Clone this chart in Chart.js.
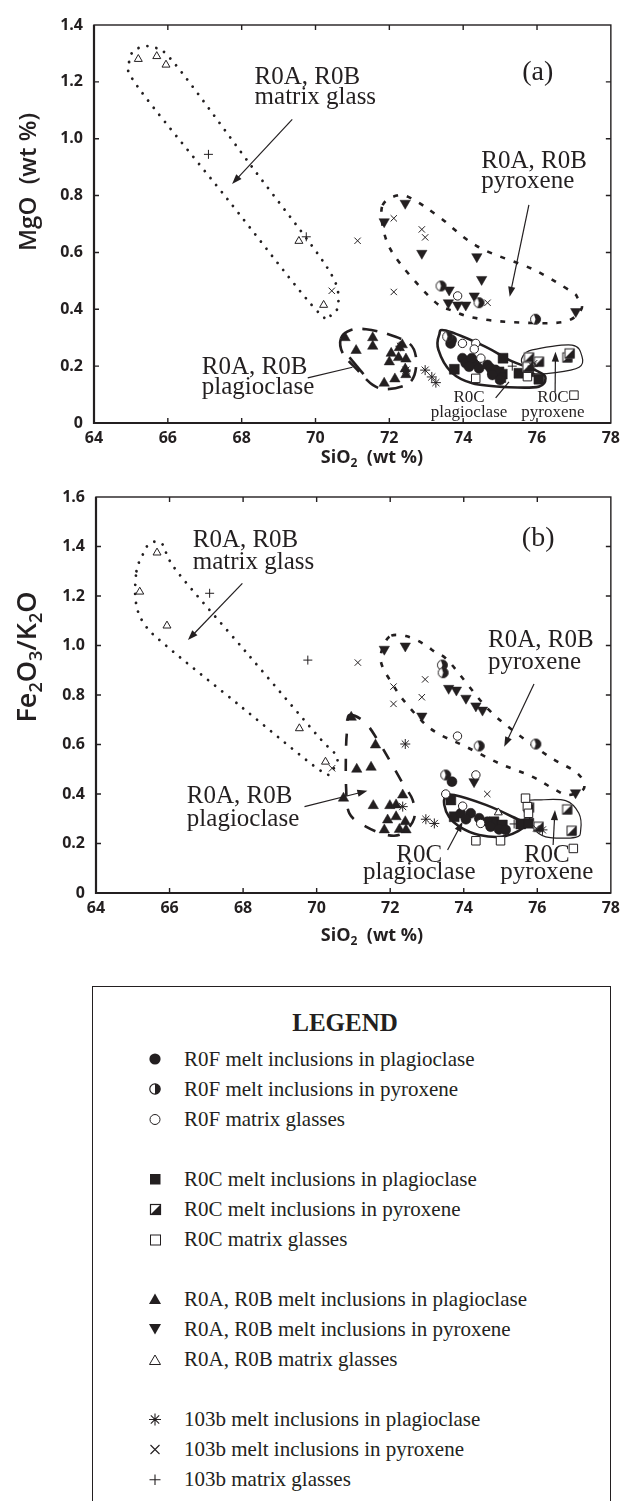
<!DOCTYPE html>
<html>
<head>
<meta charset="utf-8">
<script src="https://cdn.jsdelivr.net/npm/chart.js@4.4.0/dist/chart.umd.min.js"></script>
<style>
  html, body { margin: 0; padding: 0; background: #fff; }
  body { position: relative; width: 626px; height: 1501px; overflow: hidden; }
  canvas { position: absolute; left: 0; }
  #chartA { top: 0; }
  #chartB { top: 470px; }
  #legend {
    position: absolute; left: 92px; top: 986px; width: 517px; height: 560px;
    border: 1.5px solid #231f20; box-sizing: content-box;
    font-family: "Liberation Serif", "Times New Roman", serif; color: #231f20;
  }
  #legend .title {
    position: absolute; left: 0; width: 504px; top: 20px; text-align: center;
    font-weight: bold; font-size: 25px; line-height: 32px;
  }
  #legend .row { position: absolute; left: 0; height: 30px; line-height: 30px; font-size: 21px; white-space: nowrap; }
  #legend .row svg { position: absolute; left: 55px; top: 8px; }
  #legend .row span { position: absolute; left: 91px; top: 0; }
</style>
</head>
<body>
<canvas id="chartA" width="626" height="475"></canvas>
<canvas id="chartB" width="626" height="480"></canvas>
<div id="legend"></div>
<script>
// ---------- axis ticks ----------
const sio2Ticks = [64, 66, 68, 70, 72, 74, 76, 78];
const mgoTicks  = [0, 0.2, 0.4, 0.6, 0.8, 1.0, 1.2, 1.4];
const feTicks   = [0, 0.2, 0.4, 0.6, 0.8, 1.0, 1.2, 1.4, 1.6];

// ---------- (a) MgO vs SiO2, [SiO2, MgO] ----------
const mgoR0Fplag = [[73.69,0.292],[73.66,0.28],[73.98,0.228],[74.07,0.21],[74.23,0.228],[74.16,0.198],
                    [74.43,0.192],[74.66,0.204],[74.75,0.192],[74.88,0.186],[74.79,0.169],[75.0,0.151]];
const mgoR0Fpyx  = [[73.58,0.304],[73.40,0.482],[74.43,0.423],[75.96,0.365]];
const mgoR0Fglass = [[73.85,0.447],[73.98,0.28],[74.34,0.28],[74.3,0.26],[74.48,0.228]];
const mgoR0Cplag = [[73.76,0.189],[74.34,0.21],[75.08,0.228],[74.79,0.186],[74.97,0.18],[75.06,0.172],
                    [75.02,0.16],[75.51,0.175],[75.78,0.18],[76.05,0.154]];
const mgoR0Cpyx  = [[75.78,0.231],[76.05,0.216],[76.82,0.231],[76.88,0.245],[75.74,0.198]];
const mgoR0Cglass = [[74.34,0.157],[75.74,0.163],[77.0,0.098]];
const mgoR0ABplag = [[70.8,0.30],[71.1,0.255],[71.55,0.30],[71.55,0.27],[72.05,0.245],[72.0,0.215],[72.27,0.265],
                     [72.35,0.275],[72.25,0.23],[72.45,0.225],[72.43,0.19],[72.45,0.17],[71.86,0.14],[72.15,0.155]];
const mgoR0ABpyx = [[71.86,0.708],[72.43,0.773],[72.88,0.597],[73.62,0.468],[73.60,0.423],[73.85,0.415],
                    [74.07,0.415],[74.3,0.447],[74.37,0.585],[74.5,0.505],[77.05,0.392]];
const mgoR0ABglass = [[65.2,1.28],[65.7,1.29],[65.95,1.26],[69.55,0.64],[70.22,0.415]];
const mgo103bPlag = [[72.3,0.27],[72.45,0.186],[72.97,0.186],[73.15,0.162],[73.26,0.142],[75.88,0.2]];
const mgo103bPyx  = [[71.14,0.641],[72.12,0.72],[72.88,0.681],[72.97,0.653],[70.44,0.465],[72.12,0.461],
                     [74.66,0.423],[75.92,0.21]];
const mgo103bGlass = [[67.1,0.945],[69.75,0.655],[75.33,0.2]];

// ---------- (b) Fe2O3/K2O vs SiO2, [SiO2, Fe2O3/K2O] ----------
const feR0Fplag = [[73.68,0.45],[73.92,0.322],[74.19,0.322],[74.06,0.298],[74.42,0.302],[74.64,0.288],
                   [74.73,0.268],[74.96,0.257],[75.14,0.255]];
const feR0Fpyx  = [[73.42,0.921],[73.44,0.89],[74.42,0.594],[75.96,0.602],[73.51,0.477]];
const feR0Fglass = [[73.83,0.634],[74.33,0.477],[73.51,0.40],[73.97,0.351],[74.46,0.281]];
const feR0Cplag = [[73.65,0.376],[73.74,0.308],[74.82,0.288],[75.05,0.275],[75.55,0.279],[75.77,0.282]];
const feR0Cpyx  = [[75.77,0.346],[76.03,0.268],[76.81,0.338],[76.93,0.252]];
const feR0Cglass = [[75.68,0.383],[74.33,0.211],[75.0,0.211],[75.73,0.349],[75.76,0.322],[76.98,0.18]];
const feR0ABplag = [[70.94,0.71],[71.6,0.598],[71.09,0.5],[71.48,0.508],[72.34,0.396],[70.73,0.383],[71.54,0.353],
                    [71.99,0.353],[72.16,0.356],[71.93,0.295],[72.16,0.308],[71.84,0.255],[72.41,0.288],
                    [72.43,0.255],[72.25,0.257]];
const feR0ABpyx = [[71.84,0.985],[72.41,0.998],[73.59,0.827],[73.8,0.82],[74.06,0.787],[74.33,0.756],
                   [74.51,0.739],[72.86,0.715],[74.28,0.45],[77.04,0.405]];
const feR0ABglass = [[65.66,1.375],[65.19,1.217],[65.93,1.08],[69.53,0.665],[70.24,0.53],[74.94,0.325]];
const fe103bPlag = [[72.41,0.602],[72.34,0.349],[72.97,0.298],[73.2,0.281],[76.14,0.255]];
const fe103bPyx  = [[71.12,0.931],[72.95,0.863],[72.09,0.834],[72.09,0.764],[72.86,0.791],[70.42,0.504],
                    [74.64,0.4],[75.97,0.261]];
const fe103bGlass = [[67.09,1.211],[69.76,0.941],[75.37,0.279]];

// ---------- series names (legend order) ----------
const seriesNames = [
  'R0F melt inclusions in plagioclase', 'R0F melt inclusions in pyroxene', 'R0F matrix glasses',
  'R0C melt inclusions in plagioclase', 'R0C melt inclusions in pyroxene', 'R0C matrix glasses',
  'R0A, R0B melt inclusions in plagioclase', 'R0A, R0B melt inclusions in pyroxene', 'R0A, R0B matrix glasses',
  '103b melt inclusions in plagioclase', '103b melt inclusions in pyroxene', '103b matrix glasses'
];
const seriesA = [mgoR0Fplag, mgoR0Fpyx, mgoR0Fglass, mgoR0Cplag, mgoR0Cpyx, mgoR0Cglass,
                 mgoR0ABplag, mgoR0ABpyx, mgoR0ABglass, mgo103bPlag, mgo103bPyx, mgo103bGlass];
const seriesB = [feR0Fplag, feR0Fpyx, feR0Fglass, feR0Cplag, feR0Cpyx, feR0Cglass,
                 feR0ABplag, feR0ABpyx, feR0ABglass, fe103bPlag, fe103bPyx, fe103bGlass];

const INK = '#231f20';

// marker images for the half-filled symbols
function halfCircleImg(r) {
  const c = document.createElement('canvas');
  const s = Math.ceil(2 * r + 3); c.width = s; c.height = s;
  const g = c.getContext('2d'); const m = s / 2;
  g.fillStyle = '#fff'; g.beginPath(); g.arc(m, m, r, 0, 2 * Math.PI); g.fill();
  g.fillStyle = INK; g.beginPath(); g.moveTo(m, m); g.arc(m, m, r, -Math.PI * 0.6, Math.PI * 0.6); g.closePath(); g.fill();
  g.strokeStyle = INK; g.lineWidth = 1; g.beginPath(); g.arc(m, m, r, 0, 2 * Math.PI); g.stroke();
  return c;
}
function halfSquareImg(h) {
  const c = document.createElement('canvas');
  const s = Math.ceil(2 * h + 3); c.width = s; c.height = s;
  const g = c.getContext('2d'); const a = (s - 2 * h) / 2, b = a + 2 * h;
  g.fillStyle = '#fff'; g.fillRect(a, a, 2 * h, 2 * h);
  g.fillStyle = INK; g.beginPath(); g.moveTo(b, a); g.lineTo(b, b); g.lineTo(a, b); g.closePath(); g.fill();
  g.strokeStyle = INK; g.lineWidth = 1; g.strokeRect(a + 0.5, a + 0.5, 2 * h - 1, 2 * h - 1);
  return c;
}

// marker styles, same order as seriesNames
const markerStyles = [
  { pointStyle: 'circle', radius: 5, bg: INK, bw: 0.5 },
  { pointStyle: halfCircleImg(5), radius: 5 },
  { pointStyle: 'circle', radius: 4.2, bg: '#fff', bw: 1 },
  { pointStyle: 'rect', radius: 7, bg: INK, bw: 0.5 },
  { pointStyle: halfSquareImg(5), radius: 5 },
  { pointStyle: 'rect', radius: 6, bg: '#fff', bw: 1 },
  { pointStyle: 'triangle', radius: 6, bg: INK, bw: 0.5 },
  { pointStyle: 'triangle', radius: 6, bg: INK, bw: 0.5, rotation: 180 },
  { pointStyle: 'triangle', radius: 4.6, bg: '#fff', bw: 1 },
  { pointStyle: 'star', radius: 5, bg: INK, bw: 1 },
  { pointStyle: 'crossRot', radius: 4.5, bg: INK, bw: 1 },
  { pointStyle: 'cross', radius: 4.5, bg: INK, bw: 1 }
];

function makeDatasets(series) {
  // open symbols first so the filled ones sit on top
  const order = [2, 5, 8, 11, 10, 9, 1, 4, 0, 3, 6, 7];
  return order.map(i => {
    const m = markerStyles[i];
    return {
      label: seriesNames[i],
      data: series[i].map(([x, y]) => ({ x, y })),
      pointStyle: m.pointStyle,
      pointRadius: m.radius,
      pointHoverRadius: m.radius,
      pointRotation: m.rotation || 0,
      pointBackgroundColor: m.bg || INK,
      pointBorderColor: INK,
      pointBorderWidth: m.bw || 1,
      showLine: false
    };
  });
}

// smooth closed curve through pixel points (Catmull-Rom)
function smoothClosed(ctx, pts) {
  const n = pts.length;
  ctx.moveTo(pts[0][0], pts[0][1]);
  for (let i = 0; i < n; i++) {
    const p0 = pts[(i - 1 + n) % n], p1 = pts[i], p2 = pts[(i + 1) % n], p3 = pts[(i + 2) % n];
    ctx.bezierCurveTo(p1[0] + (p2[0] - p0[0]) / 6, p1[1] + (p2[1] - p0[1]) / 6,
                      p2[0] - (p3[0] - p1[0]) / 6, p2[1] - (p3[1] - p1[1]) / 6, p2[0], p2[1]);
  }
  ctx.closePath();
}

// text with subscripts: parts = [[text, isSub], ...], centred at x, baseline y
function drawRich(ctx, parts, x, y, size, weight, family, rot) {
  const fMain = `${weight} ${size}px ${family}`;
  const fSub = `${weight} ${Math.round(size * 0.66)}px ${family}`;
  let w = 0;
  parts.forEach(([t, s]) => { ctx.font = s ? fSub : fMain; w += ctx.measureText(t).width; });
  ctx.save();
  ctx.translate(x, y); if (rot) ctx.rotate(rot);
  ctx.textBaseline = 'alphabetic'; ctx.textAlign = 'left'; ctx.fillStyle = INK;
  let cx = -w / 2;
  parts.forEach(([t, s]) => {
    ctx.font = s ? fSub : fMain;
    ctx.fillText(t, cx, s ? size * 0.24 : 0);
    cx += ctx.measureText(t).width;
  });
  ctx.restore();
}

function arrowLine(ctx, a, b, head, width) {
  ctx.save();
  ctx.strokeStyle = INK; ctx.fillStyle = INK; ctx.lineWidth = width || 1.2; ctx.setLineDash([]);
  const ang = Math.atan2(b[1] - a[1], b[0] - a[0]);
  const L = 10, W = 3.6;
  const end = head ? [b[0] - Math.cos(ang) * (L - 2), b[1] - Math.sin(ang) * (L - 2)] : b;
  ctx.beginPath(); ctx.moveTo(a[0], a[1]); ctx.lineTo(end[0], end[1]); ctx.stroke();
  if (head) {
    ctx.beginPath();
    ctx.moveTo(b[0], b[1]);
    ctx.lineTo(b[0] - Math.cos(ang) * L - Math.sin(ang) * W, b[1] - Math.sin(ang) * L + Math.cos(ang) * W);
    ctx.lineTo(b[0] - Math.cos(ang) * L + Math.sin(ang) * W, b[1] - Math.sin(ang) * L - Math.cos(ang) * W);
    ctx.closePath(); ctx.fill();
  }
  ctx.restore();
}

const SERIF = '"Liberation Serif", "Times New Roman", serif';
const SANS = '"Open Sans", "Liberation Sans", sans-serif';
const DOTS = { dash: [0.01, 9], width: 2.8, cap: 'round' };
const SHORT_DASH = { dash: [5, 9], width: 2.6, cap: 'butt' };

function notesPlugin(spec) {
  return {
    id: 'notes',
    beforeDatasetsDraw(chart) {
      const { ctx } = chart, X = chart.scales.x, Y = chart.scales.y;
      const P = ([a, b]) => [X.getPixelForValue(a), Y.getPixelForValue(b)];
      ctx.save();
      ctx.strokeStyle = INK;
      spec.outlines.forEach(o => {
        ctx.beginPath(); smoothClosed(ctx, o.path.map(P));
        ctx.lineWidth = o.style.width; ctx.setLineDash(o.style.dash || []); ctx.lineCap = o.style.cap || 'butt';
        ctx.stroke();
      });
      ctx.restore();
    },
    afterDraw(chart) {
      const { ctx, chartArea: a } = chart, X = chart.scales.x, Y = chart.scales.y;
      const P = ([u, v]) => [X.getPixelForValue(u), Y.getPixelForValue(v)];
      // pointers and arrows
      spec.arrows.forEach(r => arrowLine(ctx, P(r.from), P(r.to), r.head, r.width));
      // text notes
      ctx.save(); ctx.fillStyle = INK; ctx.textBaseline = 'alphabetic';
      spec.labels.forEach(l => {
        const [px, py] = P(l.at);
        ctx.font = `${l.size}px ${SERIF}`; ctx.textAlign = l.align || 'left';
        l.lines.forEach((t, i) => ctx.fillText(t, px, py + i * l.lh));
      });
      ctx.restore();
      // frame with inward ticks
      ctx.save(); ctx.strokeStyle = INK; ctx.setLineDash([]);
      ctx.lineWidth = 1.4;
      ctx.strokeRect(a.left, a.top, a.right - a.left, a.bottom - a.top);
      ctx.lineWidth = 2.2;
      ctx.beginPath(); ctx.moveTo(a.left, a.top); ctx.lineTo(a.left, a.bottom); ctx.lineTo(a.right, a.bottom); ctx.stroke();
      ctx.lineWidth = 1.4;
      ctx.beginPath();
      X.ticks.forEach(t => {
        const px = X.getPixelForValue(t.value);
        if (px <= a.left + 1 || px >= a.right - 1) return;
        ctx.moveTo(px, a.bottom); ctx.lineTo(px, a.bottom - 5);
        ctx.moveTo(px, a.top); ctx.lineTo(px, a.top + 5);
      });
      Y.ticks.forEach(t => {
        const py = Y.getPixelForValue(t.value);
        if (py <= a.top + 1 || py >= a.bottom - 1) return;
        ctx.moveTo(a.left, py); ctx.lineTo(a.left + 5, py);
        ctx.moveTo(a.right, py); ctx.lineTo(a.right - 5, py);
      });
      ctx.stroke();
      ctx.restore();
      // axis titles
      drawRich(ctx, spec.yTitle.parts, spec.yTitle.x, spec.yTitle.y, spec.yTitle.size, 600, SANS, -Math.PI / 2);
      drawRich(ctx, [['SiO', false], ['2', true], ['  (wt %)', false]], 372, spec.xTitleBaseline, 18, 700, SANS, 0);
    }
  };
}

function makeChart(id, series, yTicks, yMax, yWidth, xHeight, padTop, spec) {
  return new Chart(document.getElementById(id), {
    type: 'scatter',
    data: { datasets: makeDatasets(series) },
    options: {
      responsive: false, animation: false, devicePixelRatio: 1,
      layout: { padding: { top: padTop, right: 14, left: 0, bottom: 0 } },
      plugins: { legend: { display: false }, tooltip: { enabled: false } },
      scales: {
        x: {
          type: 'linear', min: 64, max: 78,
          grid: { display: false, drawTicks: false }, border: { display: false },
          afterBuildTicks: s => { s.ticks = sio2Ticks.map(v => ({ value: v })); },
          afterFit: s => { s.height = xHeight; },
          ticks: { padding: 6, color: INK, font: { family: SANS, size: 16, weight: 'bold' }, maxRotation: 0 }
        },
        y: {
          type: 'linear', min: 0, max: yMax,
          grid: { display: false, drawTicks: false }, border: { display: false },
          afterBuildTicks: s => { s.ticks = yTicks.map(v => ({ value: v })); },
          afterFit: s => { s.width = yWidth; },
          ticks: { padding: 11, color: INK, font: { family: SANS, size: 16, weight: 'bold' },
                   callback: v => (v === 0 ? '0' : v.toFixed(1)) }
        }
      }
    },
    plugins: [notesPlugin(spec)]
  });
}

// ---------- notes for panel (a) ----------
const notesA = {
  outlines: [
    { style: DOTS, path: [[64.95,1.27],[65.15,1.315],[65.6,1.322],[66.2,1.262],[68.25,0.906],[70.3,0.55],[70.62,0.43],
                          [70.45,0.385],[70.0,0.40],[67.6,0.79],[65.2,1.18]] },
    { style: SHORT_DASH, path: [[71.8,0.76],[71.9,0.65],[72.3,0.56],[73.2,0.43],[73.7,0.395],[74.3,0.37],[75.3,0.355],
                                [76.7,0.355],[77.2,0.40],[77.1,0.44],[76.9,0.465],[75.9,0.54],[74.4,0.62],[73.35,0.725],
                                [72.6,0.79],[72.2,0.80]] },
    { style: { dash: [15, 10], width: 2.6 }, path: [[70.69,0.298],[70.96,0.327],[71.37,0.33],[71.95,0.313],[72.54,0.28],
                                [72.72,0.233],[72.68,0.169],[72.45,0.134],[71.91,0.119],[71.55,0.134],[71.14,0.186],[70.74,0.245]] },
    { style: { width: 2.6 }, path: [[73.35,0.31],[73.53,0.325],[74.61,0.268],[75.24,0.222],[76.05,0.18],[76.23,0.157],
                                [76.05,0.128],[75.24,0.126],[74.25,0.14],[73.67,0.18],[73.33,0.257]] },
    { style: { width: 1.2 }, path: [[75.6,0.231],[75.87,0.257],[76.95,0.274],[77.22,0.233],[77.14,0.196],[76.5,0.177],
                                [75.87,0.175],[75.62,0.204]] }
  ],
  arrows: [
    { from: [69.37,1.068], to: [67.74,0.841], head: true },
    { from: [75.78,0.767], to: [75.26,0.444], head: true },
    { from: [69.79,0.159], to: [71.0,0.196], head: false },
    { from: [70.92,0.231], to: [71.3,0.172], head: false, width: 2.6 },
    { from: [74.88,0.088], to: [75.24,0.145], head: false },
    { from: [76.49,0.109], to: [76.5,0.251], head: true }
  ],
  labels: [
    { at: [68.35,1.192], lines: ['R0A, R0B', 'matrix glass'], size: 25, lh: 20 },
    { at: [75.6,1.206], lines: ['(a)'], size: 28, lh: 0 },
    { at: [74.49,0.897], lines: ['R0A, R0B', 'pyroxene'], size: 25, lh: 20 },
    { at: [66.92,0.172], lines: ['R0A, R0B', 'plagioclase'], size: 25, lh: 20 },
    { at: [74.16,0.074], lines: ['R0C', 'plagioclase'], size: 17, lh: 15, align: 'center' },
    { at: [76.43,0.074], lines: ['R0C', 'pyroxene'], size: 17, lh: 15, align: 'center' }
  ],
  yTitle: { parts: [['MgO  (wt %)', false]], x: 36, y: 182, size: 24 },
  xTitleBaseline: 463
};

// ---------- notes for panel (b) ----------
const notesB = {
  outlines: [
    { style: DOTS, path: [[65.1,1.30],[65.25,1.36],[65.45,1.41],[65.8,1.41],[66.2,1.30],[68.1,0.97],[70.0,0.64],
                          [70.55,0.55],[70.4,0.495],[70.05,0.50],[67.97,0.75],[65.9,1.0],[65.3,1.09],[65.08,1.18]] },
    { style: SHORT_DASH, path: [[71.98,1.036],[71.75,0.968],[71.79,0.914],[72.05,0.847],[72.34,0.783],[72.88,0.692],
                                [73.33,0.642],[74.06,0.591],[74.96,0.524],[75.86,0.47],[76.5,0.416],[76.86,0.396],
                                [77.27,0.423],[77.09,0.484],[76.32,0.551],[75.32,0.659],[74.6,0.753],[73.6,0.935],
                                [73.24,0.971],[72.88,1.009],[72.43,1.038]] },
    { style: { dash: [12, 13], width: 2.6 }, path: [[70.89,0.719],[71.3,0.692],[71.66,0.618],[71.98,0.537],[72.34,0.443],
                                [72.61,0.376],[72.65,0.302],[72.34,0.241],[71.93,0.234],[71.34,0.268],[70.89,0.322],
                                [70.8,0.43],[70.8,0.591],[70.84,0.672]] },
    { style: { width: 2.6 }, path: [[73.51,0.389],[73.74,0.396],[74.6,0.356],[75.32,0.308],[75.68,0.275],[75.14,0.23],
                                [74.42,0.234],[73.88,0.268],[73.6,0.308],[73.47,0.356]] },
    { style: { width: 1.2 }, path: [[75.68,0.369],[76.05,0.376],[76.77,0.373],[77.13,0.322],[77.18,0.255],[77.04,0.225],
                                [76.23,0.227],[75.86,0.268],[75.77,0.322]] }
  ],
  arrows: [
    { from: [67.98,1.251], to: [66.5,1.022], head: true },
    { from: [75.91,0.844], to: [75.1,0.591], head: true },
    { from: [69.67,0.349], to: [71.38,0.413], head: true },
    { from: [73.56,0.174], to: [73.97,0.288], head: true },
    { from: [76.43,0.194], to: [76.48,0.335], head: true }
  ],
  labels: [
    { at: [66.63,1.398], lines: ['R0A, R0B', 'matrix glass'], size: 25, lh: 22 },
    { at: [75.58,1.402], lines: ['(b)'], size: 28, lh: 0 },
    { at: [74.66,0.994], lines: ['R0A, R0B', 'pyroxene'], size: 25, lh: 22 },
    { at: [66.47,0.364], lines: ['R0A, R0B', 'plagioclase'], size: 25, lh: 23 },
    { at: [72.79,0.125], lines: ['R0C', 'plagioclase'], size: 25, lh: 17, align: 'center' },
    { at: [76.26,0.125], lines: ['R0C', 'pyroxene'], size: 25, lh: 17, align: 'center' }
  ],
  yTitle: { parts: [['Fe', false], ['2', true], ['O', false], ['3', true], ['/K', false], ['2', true], ['O', false]],
            x: 36, y: 187, size: 27 },
  xTitleBaseline: 471
};

makeChart('chartA', seriesA, mgoTicks, 1.4, 94, 52, 25, notesA);
makeChart('chartB', seriesB, feTicks, 1.6, 96, 57, 27, notesB);

// ---------- legend box ----------
const legendIcons = [
  '<circle cx="7" cy="7" r="5.6" fill="#231f20"/>',
  '<circle cx="7" cy="7" r="5.2" fill="#fff" stroke="#231f20" stroke-width="1.2"/><path d="M7 1.8 A5.2 5.2 0 0 1 7 12.2 Z" fill="#231f20"/>',
  '<circle cx="7" cy="7.5" r="5" fill="#fff" stroke="#231f20" stroke-width="1"/>',
  '<rect x="2" y="2" width="10.5" height="10.5" fill="#231f20"/>',
  '<rect x="2.5" y="2.5" width="10" height="10" fill="#fff" stroke="#231f20" stroke-width="1.2"/><path d="M12.5 2.5 L12.5 12.5 L2.5 12.5 Z" fill="#231f20"/>',
  '<rect x="2.5" y="3" width="10" height="10" fill="#fff" stroke="#231f20" stroke-width="1"/>',
  '<polygon points="7,1.5 13,12 1,12" fill="#231f20"/>',
  '<polygon points="1,2 13,2 7,12.5" fill="#231f20"/>',
  '<polygon points="7,3 12.5,12.5 1.5,12.5" fill="#fff" stroke="#231f20" stroke-width="1"/>',
  '<path d="M7 1.5 V13.5 M1 7.5 H13 M2.8 3.3 L11.2 11.7 M11.2 3.3 L2.8 11.7" stroke="#231f20" stroke-width="1.1"/>',
  '<path d="M2.5 3 L11.5 12 M11.5 3 L2.5 12" stroke="#231f20" stroke-width="1.1"/>',
  '<path d="M7 2.5 V13 M1.5 7.8 H12.5" stroke="#231f20" stroke-width="1.1"/>'
];
const legendRowIndex = [0, 1, 2, 4, 5, 6, 8, 9, 10, 12, 13, 14];
(function buildLegend() {
  const box = document.getElementById('legend');
  let html = '<div class="title">LEGEND</div>';
  seriesNames.forEach((name, i) => {
    const top = 57 + legendRowIndex[i] * 30;
    html += `<div class="row" style="top:${top}px"><svg width="14" height="15" viewBox="0 0 14 15">${legendIcons[i]}</svg><span>${name}</span></div>`;
  });
  box.innerHTML = html;
})();
</script>
</body>
</html>
